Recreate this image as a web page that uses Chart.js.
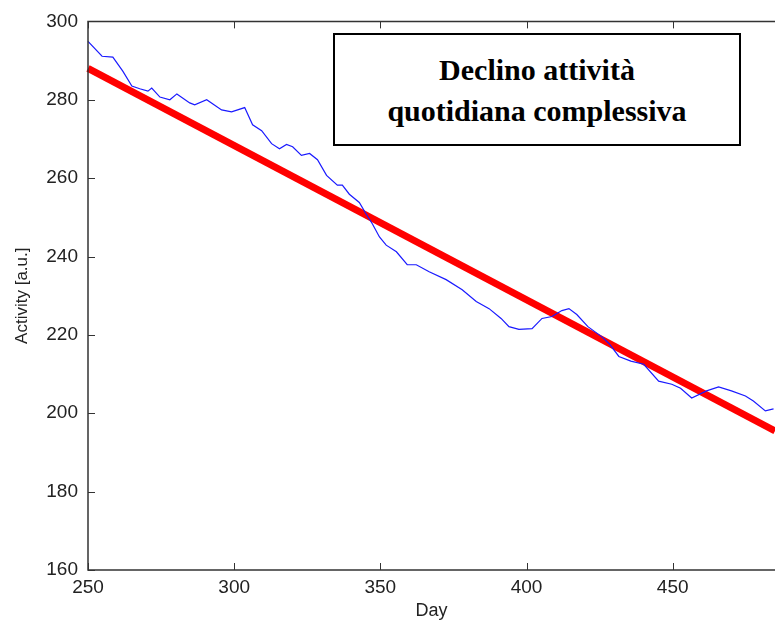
<!DOCTYPE html>
<html>
<head>
<meta charset="utf-8">
<script src="https://cdn.jsdelivr.net/npm/chart.js@4"></script>
<style>
  html, body { margin: 0; padding: 0; background: #fff; }
  #wrap { position: relative; width: 775px; height: 626px; }
  #titleBox {
    position: absolute; left: 333px; top: 33px; width: 404px; height: 109px;
    border: 2px solid #000; background: #fff;
    font-family: "Liberation Serif", "Times New Roman", serif; font-weight: bold;
    font-size: 30px; line-height: 41px; text-align: center;
    display: flex; flex-direction: column; justify-content: center;
  }
</style>
</head>
<body>
<div id="wrap">
  <canvas id="chart" width="775" height="626"></canvas>
  <div id="titleBox"><div>Declino attività</div><div>quotidiana complessiva</div></div>
</div>
<script>
// Chart values
const xTicks = [250, 300, 350, 400, 450];
const yTicks = [160, 180, 200, 220, 240, 260, 280, 300];

const activityDays = [250, 254.8, 258.5, 261.9, 265, 267.7, 270.5, 271.8, 274.6, 278, 280.4, 284.8, 286.5,
  290.6, 295.7, 299.1, 303.6, 306.3, 309.4, 312.8, 315.5, 317.9, 320, 323, 325.8, 328.5, 331.6, 335.3,
  337, 339.4, 342.8, 345.2, 347.3, 349.7, 352, 355.5, 359.2, 362.3, 366.7, 372.5, 378, 382.8, 387.2,
  391.3, 394, 397.4, 401.9, 405.3, 408.7, 412.1, 414.5, 417.2, 421, 425.8, 428.2, 431.6, 435.7, 440.1,
  445.2, 449.7, 452.7, 456.5, 461.6, 465.7, 470.1, 474.9, 477.6, 481.7, 484.5];
const activityValues = [294.9, 291.1, 290.9, 287.3, 283.5, 282.8, 282.2, 283, 280.7, 280, 281.5, 279.2, 278.7,
  280, 277.4, 276.9, 278, 273.6, 272.1, 268.8, 267.5, 268.6, 268, 265.8, 266.3, 264.7, 260.7, 258.2,
  258.2, 255.9, 253.8, 250.8, 248.3, 245, 242.9, 241.2, 237.9, 237.9, 236.1, 234.1, 231.5, 228.5, 226.7,
  224.2, 222.1, 221.4, 221.6, 224.2, 224.7, 226.2, 226.7, 225.2, 222.1, 219.5, 217.8, 214.5, 213.3,
  212.5, 208.2, 207.4, 206.4, 203.9, 205.7, 206.7, 205.7, 204.4, 203.1, 200.6, 201.1, 199.8];

const trendDays = [250, 485];
const trendValues = [288, 195.5];

const blueData = activityDays.map((d, i) => ({ x: d, y: activityValues[i] }));
const redData = trendDays.map((d, i) => ({ x: d, y: trendValues[i] }));

const tickFont = { family: "'Liberation Sans', Arial, sans-serif", size: 19 };

// MATLAB-style frame with inward ticks
const framePlugin = {
  id: "frame",
  afterDatasetsDraw(chart) {
    const { ctx, chartArea: a, scales } = chart;
    ctx.save();
    ctx.strokeStyle = "#333";
    ctx.lineWidth = 1.5;
    ctx.beginPath();
    ctx.moveTo(a.right + 2, a.top);
    ctx.lineTo(a.left, a.top);
    ctx.lineTo(a.left, a.bottom);
    ctx.lineTo(a.right + 2, a.bottom);
    ctx.stroke();
    ctx.lineWidth = 1;
    ctx.beginPath();
    xTicks.forEach(v => {
      const px = Math.round(scales.x.getPixelForValue(v)) + 0.5;
      ctx.moveTo(px, a.bottom); ctx.lineTo(px, a.bottom - 7);
      ctx.moveTo(px, a.top); ctx.lineTo(px, a.top + 7);
    });
    yTicks.forEach(v => {
      const py = Math.round(scales.y.getPixelForValue(v)) + 0.5;
      ctx.moveTo(a.left, py); ctx.lineTo(a.left + 7, py);
    });
    ctx.stroke();
    ctx.restore();
  }
};

new Chart(document.getElementById("chart"), {
  type: "line",
  data: {
    datasets: [
      {
        data: redData,
        borderColor: "#ff0000",
        borderWidth: 7,
        pointRadius: 0,
        tension: 0,
        order: 2
      },
      {
        data: blueData,
        borderColor: "#1a1aff",
        borderWidth: 1.2,
        pointRadius: 0,
        tension: 0,
        order: 1
      }
    ]
  },
  options: {
    responsive: false,
    animation: false,
    clip: false,
    layout: { padding: { top: 18, right: 0, left: 0, bottom: 0 } },
    plugins: { legend: { display: false }, tooltip: { enabled: false } },
    scales: {
      x: {
        type: "linear",
        min: 250,
        max: 485,
        afterBuildTicks: s => { s.ticks = xTicks.map(v => ({ value: v })); },
        afterFit: s => { s.height = 56; },
        grid: { display: false, drawTicks: false },
        border: { display: false },
        ticks: { color: "#222", font: tickFont, padding: 6, maxRotation: 0 },
        title: {
          display: true, text: "Day", color: "#222",
          font: { family: tickFont.family, size: 18 }, padding: { top: 0 }
        }
      },
      y: {
        min: 160,
        max: 300,
        afterBuildTicks: s => { s.ticks = yTicks.map(v => ({ value: v })); },
        afterFit: s => { s.width = 88; },
        grid: { display: false, drawTicks: false },
        border: { display: false },
        ticks: { color: "#222", font: tickFont, padding: 10 },
        title: {
          display: true, text: "Activity [a.u.]", color: "#222",
          font: { family: tickFont.family, size: 17 }, padding: { top: 12, bottom: 0 }
        }
      }
    }
  },
  plugins: [framePlugin]
});
</script>
</body>
</html>
